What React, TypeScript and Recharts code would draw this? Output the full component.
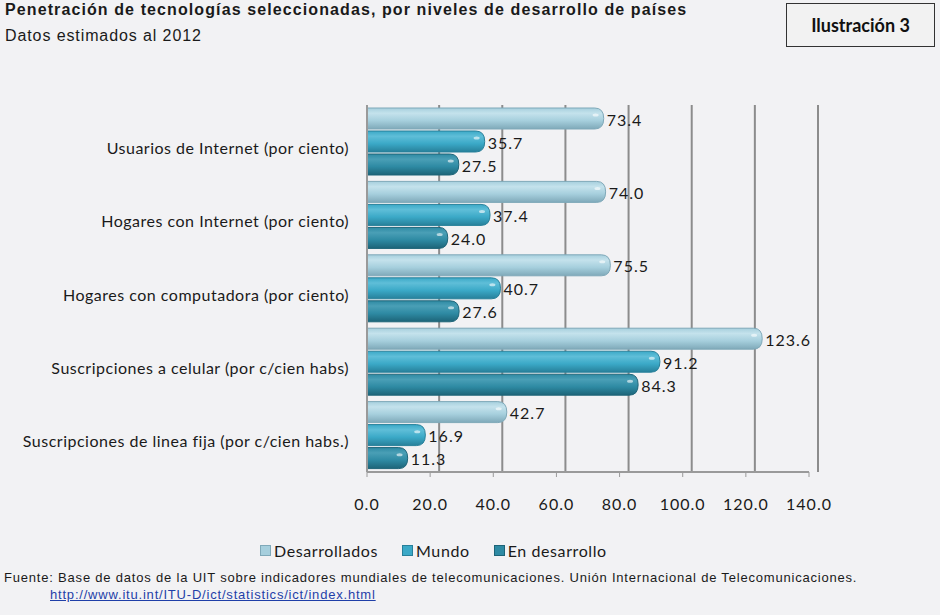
import { BarChart, Bar, XAxis, YAxis, CartesianGrid, LabelList } from 'recharts';

// Datos (estimados al 2012)
const categorias = [
  'Usuarios de Internet (por ciento)',
  'Hogares con Internet (por ciento)',
  'Hogares con computadora (por ciento)',
  'Suscripciones a celular (por c/cien habs)',
  'Suscripciones de linea fija (por c/cien habs.)',
];
const desarrollados = [73.4, 74.0, 75.5, 123.6, 42.7];
const mundo = [35.7, 37.4, 40.7, 91.2, 16.9];
const enDesarrollo = [27.5, 24.0, 27.6, 84.3, 11.3];
const ticksX = [0, 20, 40, 60, 80, 100, 120, 140];
const MAX_X = 140;

const series = [
  { key: 'desarrollados', name: 'Desarrollados', color: '#a6cfdd', light: '#c4e2ec', dark: '#7fa9b9' },
  { key: 'mundo', name: 'Mundo', color: '#3ba9c7', light: '#5fbed8', dark: '#27809a' },
  { key: 'enDesarrollo', name: 'En desarrollo', color: '#2e8aa3', light: '#4a9fb6', dark: '#1d6478' },
];

const datos = categorias.map((c, i) => ({
  categoria: c,
  desarrollados: desarrollados[i],
  mundo: mundo[i],
  enDesarrollo: enDesarrollo[i],
}));

const FUENTE = 'Lato, "Open Sans", sans-serif';
const ARIAL = '"Liberation Sans", Arial, sans-serif';
const CAP = 5; // cuánto sobresale el extremo redondeado (efecto 3D)

// Barra "cilíndrica" con extremo redondeado
function BarraCilindro(props: any) {
  const { x, y, width, height, gradId, dark } = props;
  if (!width || width <= 0) return null;
  const r = Math.min(height / 2, 9);
  const w = width + CAP;
  const d = `M${x},${y + 1} L${x + w - r},${y + 1} Q${x + w},${y + 1} ${x + w},${y + height / 2} Q${x + w},${y + height - 1} ${x + w - r},${y + height - 1} L${x},${y + height - 1} Z`;
  return (
    <g>
      <path d={d} fill={`url(#${gradId})`} stroke={dark} strokeWidth={1} />
      <ellipse cx={x + w - r * 0.9} cy={y + height * 0.35} rx={3} ry={1.5} fill="#ffffff" opacity={0.6} />
    </g>
  );
}

function TickCategoria(props: any) {
  const { x, y, payload } = props;
  return (
    <text x={x} y={y + 8} textAnchor="end" dominantBaseline="middle" fontSize={16} letterSpacing={0.5} fill="#1a1a1a" fontFamily={FUENTE}>
      {payload.value}
    </text>
  );
}

function TickValor(props: any) {
  const { x, y, payload } = props;
  return (
    <text x={x} y={y} textAnchor="middle" dominantBaseline="hanging" fontSize={16} letterSpacing={1} fill="#1a1a1a" fontFamily={FUENTE}>
      {Number(payload.value).toFixed(1)}
    </text>
  );
}

function EtiquetaValor(props: any) {
  const { x, y, width, height, value } = props;
  return (
    <text x={x + width + CAP + 3} y={y + height / 2 + 3} dominantBaseline="middle" fontSize={16} letterSpacing={1} fill="#1a1a1a" fontFamily={FUENTE}>
      {Number(value).toFixed(1)}
    </text>
  );
}

export default function App() {
  return (
    <div style={{ position: 'absolute', left: 0, top: 0, width: 940, height: 615, background: '#f2f2f4', overflow: 'hidden' }}>
      <div style={{ position: 'absolute', left: 5, top: 1, fontFamily: ARIAL, fontSize: 16, fontWeight: 'bold', color: '#1a1a1a', letterSpacing: 1.1, whiteSpace: 'nowrap' }}>
        Penetración de tecnologías seleccionadas, por niveles de desarrollo de países
      </div>
      <div style={{ position: 'absolute', left: 5, top: 27, fontFamily: ARIAL, fontSize: 16, color: '#1a1a1a', letterSpacing: 0.9, whiteSpace: 'nowrap' }}>
        Datos estimados al 2012
      </div>
      <div style={{ position: 'absolute', left: 786, top: 3, width: 149, height: 44, border: '1px solid #333', background: '#f2f2f2', boxSizing: 'border-box', display: 'flex', alignItems: 'center', justifyContent: 'center', fontFamily: FUENTE, fontWeight: 'bold', fontSize: 18, color: '#111' }}>
        Ilustración 3
      </div>

      <div style={{ position: 'absolute', left: 0, top: 0 }}>
        <BarChart
          width={940}
          height={615}
          data={datos}
          layout="vertical"
          margin={{ top: 105, right: 131, bottom: 0, left: 0 }}
          barCategoryGap={2}
          barGap={0}
        >
          <defs>
            {series.map((s) => (
              <linearGradient key={s.key} id={`grad-${s.key}`} x1="0" y1="0" x2="0" y2="1">
                <stop offset="0%" stopColor={s.color} />
                <stop offset="25%" stopColor={s.light} />
                <stop offset="60%" stopColor={s.color} />
                <stop offset="100%" stopColor={s.dark} />
              </linearGradient>
            ))}
          </defs>
          <CartesianGrid
            horizontal={false}
            stroke="#8c8c8c"
            strokeWidth={2}
            verticalCoordinatesGenerator={({ offset }: any) =>
              ticksX.slice(1).map((t) => offset.left + (t / MAX_X) * offset.width + 9)
            }
          />
          <XAxis
            type="number"
            domain={[0, MAX_X]}
            ticks={ticksX}
            height={143}
            axisLine={{ stroke: '#9a9a9a', strokeWidth: 2 }}
            tickLine={{ stroke: '#9a9a9a' }}
            tickSize={5}
            tick={<TickValor />}
            tickMargin={20}
          />
          <YAxis
            type="category"
            dataKey="categoria"
            width={367}
            axisLine={{ stroke: '#9a9a9a', strokeWidth: 2 }}
            tickLine={false}
            tick={<TickCategoria />}
            tickMargin={12}
          />
          {series.map((s) => (
            <Bar
              key={s.key}
              dataKey={s.key}
              name={s.name}
              fill={s.color}
              isAnimationActive={false}
              shape={(p: any) => <BarraCilindro {...p} gradId={`grad-${s.key}`} dark={s.dark} />}
            >
              <LabelList dataKey={s.key} content={<EtiquetaValor />} />
            </Bar>
          ))}
        </BarChart>
      </div>

      <div style={{ position: 'absolute', left: 260, top: 541, display: 'flex', gap: 24, fontFamily: FUENTE, fontSize: 16, letterSpacing: 0.6, color: '#1a1a1a', whiteSpace: 'nowrap' }}>
        {series.map((s) => (
          <span key={s.key} style={{ display: 'flex', alignItems: 'center', gap: 3 }}>
            <span style={{ width: 11, height: 11, background: s.color, border: `1px solid ${s.dark}`, display: 'inline-block', boxSizing: 'border-box' }} />
            {s.name}
          </span>
        ))}
      </div>

      <div style={{ position: 'absolute', left: 4, top: 570, fontFamily: ARIAL, fontSize: 13, color: '#1a1a1a', letterSpacing: 0.8, whiteSpace: 'nowrap' }}>
        Fuente: Base de datos de la UIT sobre indicadores mundiales de telecomunicaciones. Unión Internacional de Telecomunicaciones.
      </div>
      <div style={{ position: 'absolute', left: 50, top: 587, fontFamily: ARIAL, fontSize: 13, color: '#1f3fa8', textDecoration: 'underline', letterSpacing: 0.8, whiteSpace: 'nowrap' }}>
        http://www.itu.int/ITU-D/ict/statistics/ict/index.html
      </div>
    </div>
  );
}
